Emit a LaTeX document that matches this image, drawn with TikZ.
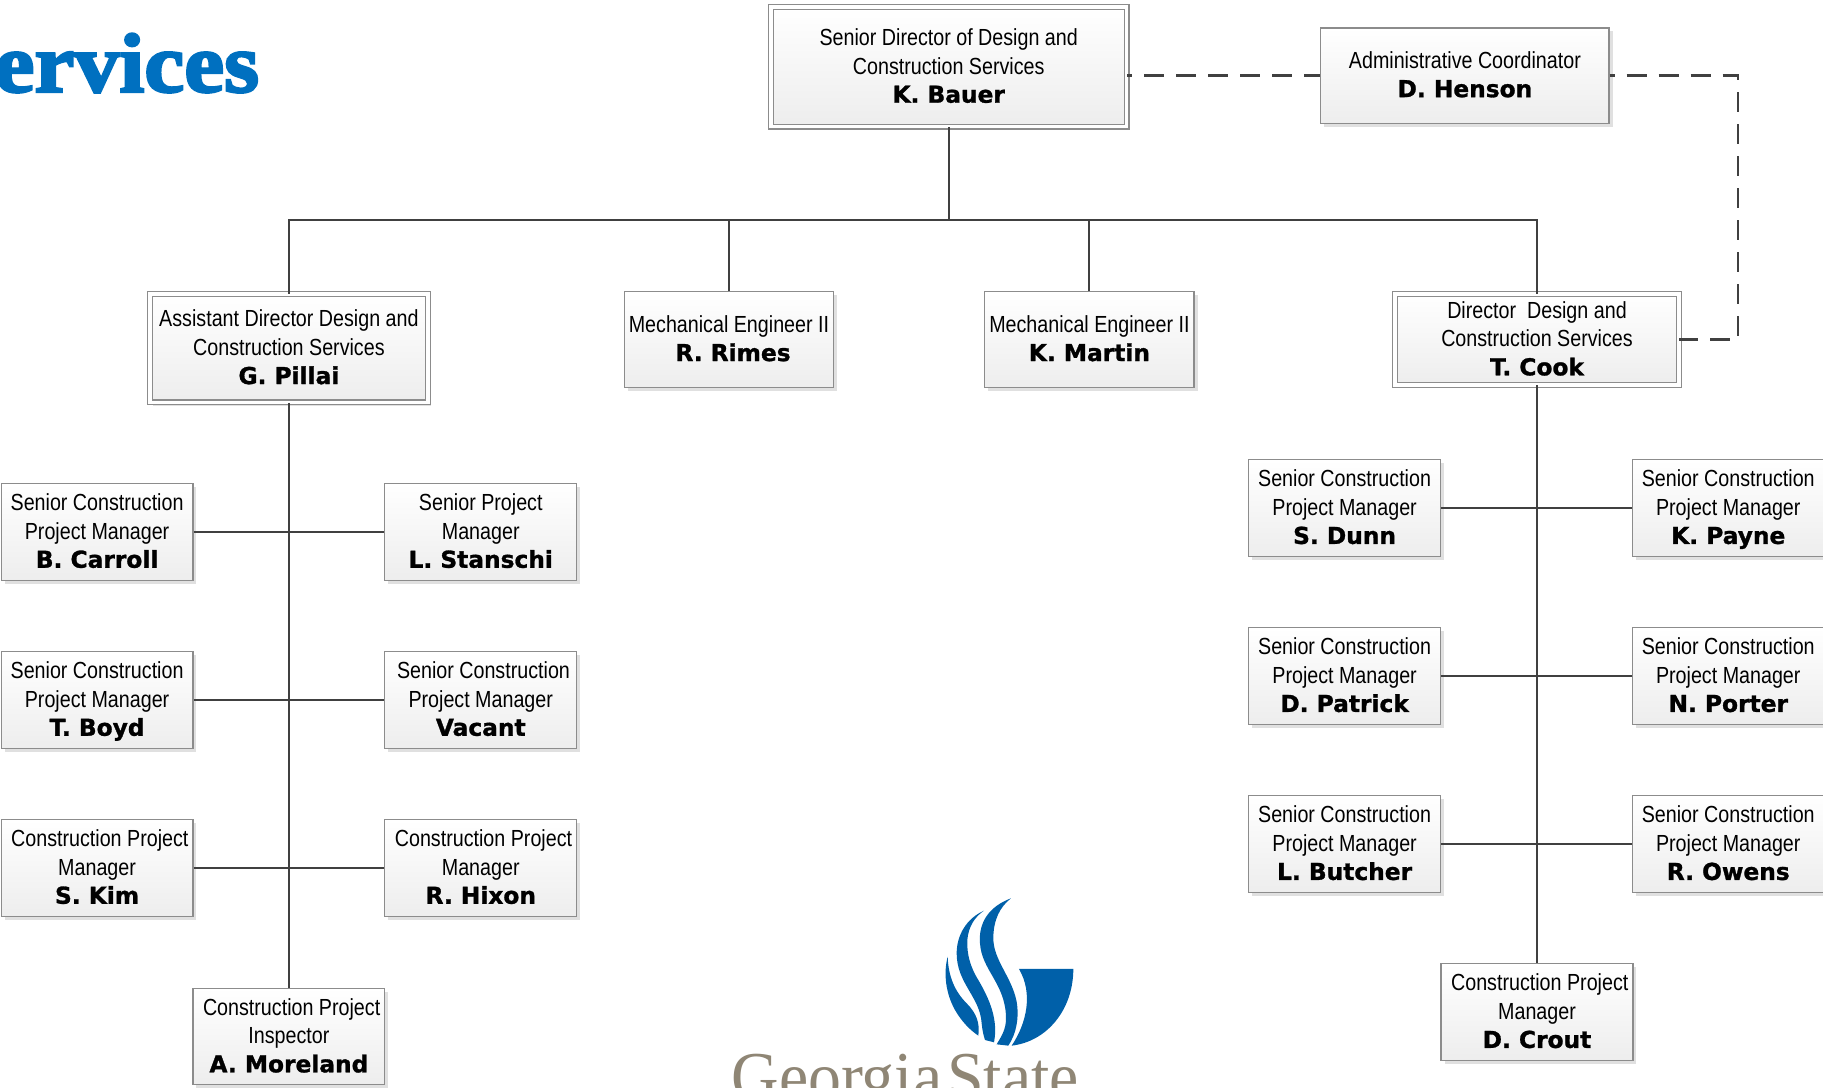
\documentclass[tikz,border=0pt]{standalone}
\usepackage{fontspec}
\usetikzlibrary{shadows}
\setmainfont{Liberation Sans}
\newfontfamily\regf[FakeStretch=0.845]{Liberation Sans}
\newfontfamily\namef[UprightFont=* Bold,FakeBold=1.2]{DejaVu Sans}
\newfontfamily\titlef[UprightFont=* Bold,FakeBold=3,FakeStretch=1.07]{Liberation Serif}
\newfontfamily\gsuf[FakeStretch=0.94,WordSpace=0.3]{Liberation Serif}
\definecolor{gsublue}{HTML}{0060A9}
\definecolor{titleblue}{HTML}{0070C0}
\definecolor{taupe}{HTML}{8F8675}
\definecolor{edge}{HTML}{8C8C8C}
\definecolor{wirecol}{HTML}{404040}
\newcommand{\who}[2]{\rule{0pt}{20pt}#1\\\namef #2\rule[-5.5pt]{0pt}{5.5pt}}
\tikzset{
  x=1.16263pt,y=-1.16263pt,
  wh/.style 2 args={minimum width=#1*1.16263pt,minimum height=#2*1.16263pt},
  person/.style={draw=edge,line width=1.2pt,top color=white,bottom color=black!7,
    align=center,inner sep=0pt,
    font=\regf\fontsize{23.3}{28.6}\selectfont,
    drop shadow={shadow xshift=3.5pt,shadow yshift=-3.5pt,fill=black!12,opacity=1}},
  lead/.style={person,double=white,double distance=3.4pt},
  smallbox/.style={person,wh={165}{83}},
  wireline/.style={draw=wirecol,line width=2.1pt},
  dashwire/.style={draw=wirecol,line width=2.3pt,dash pattern=on 20pt off 12pt,dash phase=15pt},
  logopart/.style={fill=gsublue,draw=none}
}
\begin{document}
\begin{tikzpicture}
\useasboundingbox (0,0) rectangle (1568,935.8);
% title
\begin{scope}
\clip (0,0) rectangle (1568,935.8);
\node[anchor=base east,inner sep=0pt,text=titleblue,font=\fontsize{84}{84}\selectfont] (title) at (223,79) {\titlef ervices};
\node[anchor=base west,inner sep=0pt,text=taupe,font=\fontsize{70}{70}\selectfont] (gsu) at (629,946.5) {\gsuf Georgia State};
\end{scope}
% logo
\begin{scope}[shift={(584.9,739.7)},x=0.3333pt,y=-0.3333pt]
\fill[logopart] (1017,327) -- (1180,327) .. controls (1180,450) and (1100,545) .. (995,557) .. controls (1040,490) and (1060,400) .. (1017,327) -- cycle;
\fill[logopart] (993,115) .. controls (925,140) and (895,190) .. (900,250) .. controls (905,330) and (975,370) .. (978,470) .. controls (980,510) and (960,535) .. (950,553) -- (985,557) .. controls (1010,520) and (1018,470) .. (1010,425) .. controls (995,350) and (940,300) .. (940,235) .. controls (940,180) and (960,140) .. (993,115) -- cycle;
\fill[logopart] (912,152) .. controls (860,175) and (830,225) .. (830,280) .. controls (830,370) and (900,410) .. (905,490) .. controls (907,510) and (910,525) .. (915,540) -- (942,547) .. controls (955,480) and (930,420) .. (895,360) .. controls (870,320) and (860,280) .. (862,240) .. controls (865,200) and (885,170) .. (912,152) -- cycle;
\fill[logopart] (803,290) .. controls (790,340) and (797,400) .. (825,450) .. controls (845,485) and (870,510) .. (895,527) .. controls (900,490) and (890,460) .. (860,430) .. controls (825,395) and (805,350) .. (803,290) -- cycle;
\end{scope}
% top
\node[lead,wh={306}{103}] (bauer) at (816,57.5) {\who{Senior Director of Design and\\Construction Services}{K. Bauer}};
\node[person,wh={248}{82}] (henson) at (1260,65) {\who{Administrative Coordinator}{D. Henson}};
% second level
\node[lead,wh={239}{93}] (pillai) at (248.5,299.5) {\who{Assistant Director Design and\\Construction Services}{G. Pillai}};
\node[person,wh={180}{82}] (rimes) at (627,292) {\who{Mechanical Engineer II}{~R. Rimes}};
\node[person,wh={180}{82}] (martin) at (937,292) {\who{Mechanical Engineer II}{K. Martin}};
\node[lead,wh={244}{78}] (cook) at (1322,292) {\who{Director~~Design and\\Construction Services}{T. Cook}};
% left branch
\node[smallbox] (carroll) at (83.5,457.5) {\who{Senior Construction\\Project Manager}{B. Carroll}};
\node[smallbox] (stanschi) at (413.5,457.5) {\who{Senior Project\\Manager}{L. Stanschi}};
\node[smallbox] (boyd) at (83.5,602) {\who{Senior Construction\\Project Manager}{T. Boyd}};
\node[smallbox] (vacant) at (413.5,602) {\who{~Senior Construction\\Project Manager}{Vacant}};
\node[smallbox] (kim) at (83.5,746.5) {\who{~Construction Project\\Manager}{S. Kim}};
\node[smallbox] (hixon) at (413.5,746.5) {\who{~Construction Project\\Manager}{R. Hixon}};
\node[smallbox] (moreland) at (248.5,891.5) {\who{~Construction Project\\Inspector}{A. Moreland}};
% right branch
\node[smallbox] (dunn) at (1156.5,437) {\who{Senior Construction\\Project Manager}{S. Dunn}};
\node[smallbox] (payne) at (1486.5,437) {\who{Senior Construction\\Project Manager}{K. Payne}};
\node[smallbox] (patrick) at (1156.5,581.5) {\who{Senior Construction\\Project Manager}{D. Patrick}};
\node[smallbox] (porter) at (1486.5,581.5) {\who{Senior Construction\\Project Manager}{N. Porter}};
\node[smallbox] (butcher) at (1156.5,726) {\who{Senior Construction\\Project Manager}{L. Butcher}};
\node[smallbox] (owens) at (1486.5,726) {\who{Senior Construction\\Project Manager}{R. Owens}};
\node[smallbox] (crout) at (1322,870.5) {\who{~Construction Project\\Manager}{D. Crout}};
% connectors
\coordinate (busL) at (248.5,189);
\coordinate (busR) at (1322,189);
\coordinate (dashT) at (1495,65);
\coordinate (dashB) at (1495,292);
\draw[wireline] (pillai.north) -- (busL) -- (busR) -- (cook.north);
\draw[wireline] (bauer.south) -- (bauer.south |- busL);
\draw[wireline] (rimes.north) -- (rimes.north |- busL);
\draw[wireline] (martin.north) -- (martin.north |- busL);
\draw[wireline] (pillai.south) -- (moreland.north);
\draw[wireline] (carroll.east) -- (stanschi.west);
\draw[wireline] (boyd.east) -- (vacant.west);
\draw[wireline] (kim.east) -- (hixon.west);
\draw[wireline] (cook.south) -- (crout.north);
\draw[wireline] (dunn.east) -- (payne.west);
\draw[wireline] (patrick.east) -- (porter.west);
\draw[wireline] (butcher.east) -- (owens.west);
\draw[dashwire] (bauer.east |- henson.west) -- (henson.west);
\draw[dashwire] (henson.east) -- (dashT) -- (dashB) -- (cook.east);
\end{tikzpicture}
\end{document}
